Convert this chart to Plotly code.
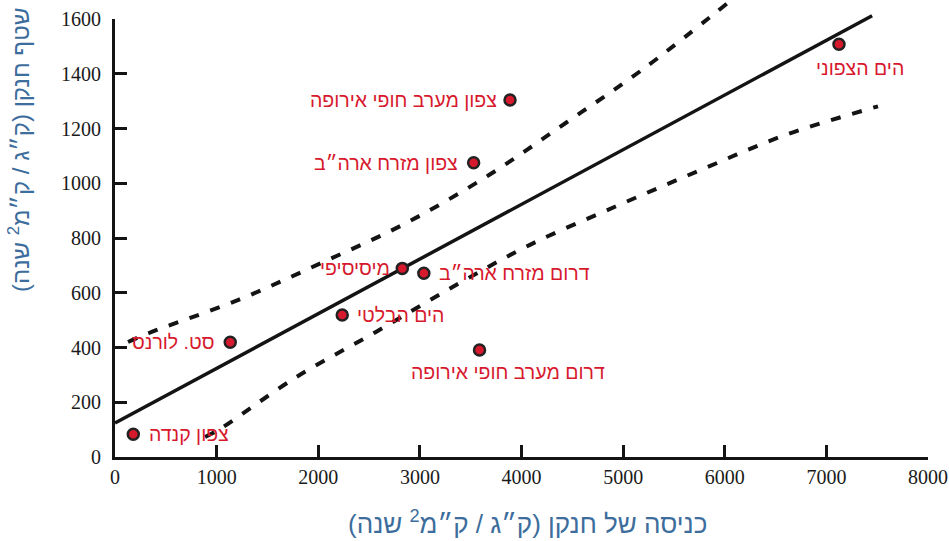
import plotly.graph_objects as go

# ---------------- data ----------------
regions = ["צפון קנדה", "סט. לורנס", "הים הבלטי", "מיסיסיפי", "דרום מזרח ארה״ב",
           "דרום מערב חופי אירופה", "צפון מזרח ארה״ב", "צפון מערב חופי אירופה", "הים הצפוני"]
n_input = [180, 1134, 2236, 2827, 3039, 3587, 3529, 3887, 7124]
n_flux = [83, 419, 519, 689, 671, 391, 1075, 1304, 1508]

fit_x = [0, 7450]
fit_y = [124, 1612]

upper_x = [128, 335, 1215, 2031, 2867, 3684, 4438, 5215, 6071]
upper_y = [420, 453, 574, 709, 855, 1031, 1221, 1422, 1671]

lower_x = [886, 1048, 1771, 2568, 3360, 4083, 4925, 5766, 6602, 7508]
lower_y = [73, 106, 289, 457, 629, 775, 915, 1049, 1177, 1281]

x_ticks = [0, 1000, 2000, 3000, 4000, 5000, 6000, 7000, 8000]
y_ticks = [0, 200, 400, 600, 800, 1000, 1200, 1400, 1600]

x_title = "כניסה של חנקן (ק״ג / ק״מ<sup>2</sup> שנה)"
y_title = "שטף חנקן (ק״ג / ק״מ<sup>2</sup> שנה)"

# ---------------- styles / layout ----------------
W, H = 949, 541
AX_L, AX_R = 115, 928      # pixel x of 0 and 8000
AX_B, AX_T = 457, 19       # pixel y of 0 and 1600
ux = 8000 / (AX_R - AX_L)
uy = 1600 / (AX_B - AX_T)
main_xrange = [-AX_L * ux, (W - AX_L) * ux]
main_yrange = [-(H - AX_B) * uy, AX_B * uy]

RED = "#d7192d"
INK = "#141414"
BLUE = "#3d6d9c"
HEB_FONT = "Liberation Sans, Arial, sans-serif"
NUM_FONT = "Liberation Serif, DejaVu Serif, serif"

# label placement: (xanchor, xshift px, yshift px)
label_style = {
    "צפון קנדה": ("left", 14, 0),
    "סט. לורנס": ("right", -13, 0),
    "הים הבלטי": ("left", 13, 0),
    "מיסיסיפי": ("right", -10, 0),
    "דרום מזרח ארה״ב": ("left", 13, 0),
    "דרום מערב חופי אירופה": ("center", 28, -22),
    "צפון מזרח ארה״ב": ("right", -14, 0),
    "צפון מערב חופי אירופה": ("right", -11, 0),
    "הים הצפוני": ("center", 21, -24),
}

fig = go.Figure()

band_line = dict(color=INK, width=4, dash="10px,12px")
fig.add_trace(go.Scatter(x=upper_x, y=upper_y, mode="lines", line=band_line,
                         line_shape="spline", hoverinfo="skip", showlegend=False))
fig.add_trace(go.Scatter(x=lower_x, y=lower_y, mode="lines", line=band_line,
                         line_shape="spline", hoverinfo="skip", showlegend=False))
fig.add_trace(go.Scatter(x=fit_x, y=fit_y, mode="lines",
                         line=dict(color=INK, width=3.5), hoverinfo="skip", showlegend=False))
fig.add_trace(go.Scatter(x=n_input, y=n_flux, mode="markers",
                         marker=dict(size=11, color=RED, line=dict(color="#222222", width=2.5)),
                         text=regions, showlegend=False))

# invisible trace for the axis-only subplot
fig.add_trace(go.Scatter(x=[None], y=[None], xaxis="x2", yaxis="y2", showlegend=False))

for name, xv, yv in zip(regions, n_input, n_flux):
    anchor, dx, dy = label_style[name]
    fig.add_annotation(x=xv, y=yv, xref="x", yref="y", text=name, showarrow=False,
                       xanchor=anchor, yanchor="middle", xshift=dx, yshift=dy,
                       font=dict(family=HEB_FONT, size=19.5, color=RED))

fig.add_annotation(x=527 / W, y=1 - 522 / H, xref="paper", yref="paper", text=x_title,
                   showarrow=False, xanchor="center", yanchor="middle",
                   font=dict(family=HEB_FONT, size=26, color=BLUE))
fig.add_annotation(x=19 / W, y=1 - 150 / H, xref="paper", yref="paper", text=y_title,
                   showarrow=False, xanchor="center", yanchor="middle", textangle=-90,
                   font=dict(family=HEB_FONT, size=24, color=BLUE))

axis_common = dict(showline=True, linewidth=3, linecolor=INK, ticks="inside", ticklen=12,
                   tickwidth=3, tickcolor=INK, showgrid=False, zeroline=False,
                   tickfont=dict(family=NUM_FONT, size=20, color="#1a1a1a"),
                   fixedrange=True, automargin=False)

fig.update_layout(
    width=W, height=H,
    margin=dict(l=0, r=0, t=0, b=0),
    paper_bgcolor="white", plot_bgcolor="rgba(0,0,0,0)",
    xaxis=dict(range=main_xrange, visible=False, domain=[0, 1]),
    yaxis=dict(range=main_yrange, visible=False, domain=[0, 1]),
    xaxis2=dict(range=[0, 8000], domain=[AX_L / W, AX_R / W], anchor="y2",
                tickvals=x_ticks, ticktext=[str(v) for v in x_ticks],
                ticklabelstandoff=0, **axis_common),
    yaxis2=dict(range=[0, 1600], domain=[(H - AX_B) / H, (H - AX_T) / H], anchor="x2",
                tickvals=y_ticks, ticktext=[str(v) for v in y_ticks],
                ticklabelstandoff=7, **axis_common),
    showlegend=False,
)

fig.write_html("out.html")
